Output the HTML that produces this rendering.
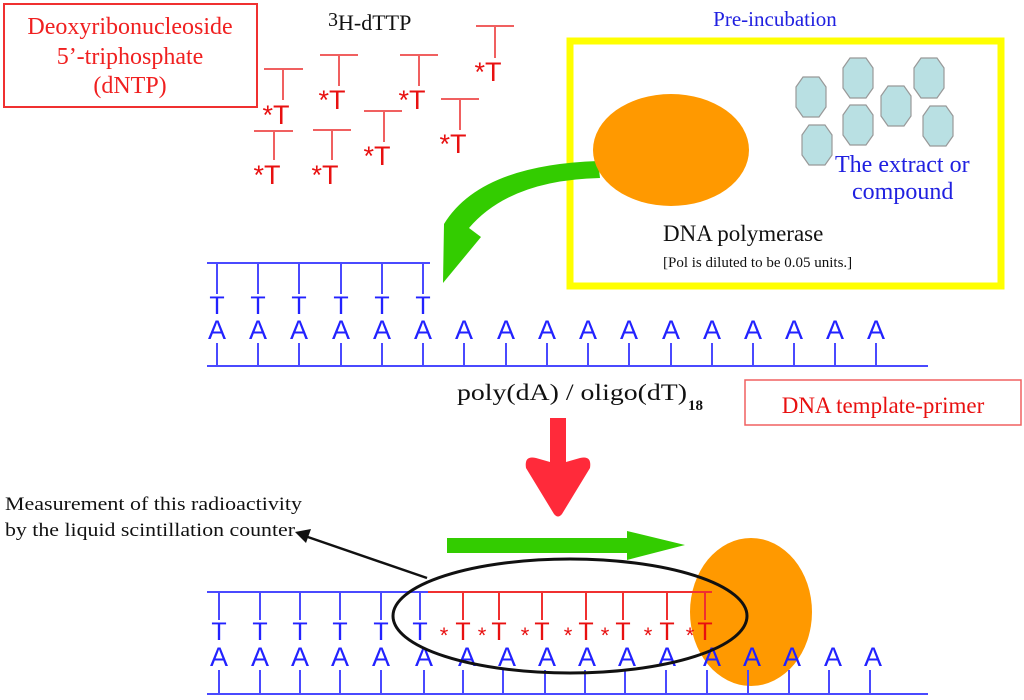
<!DOCTYPE html>
<html><head><meta charset="utf-8"><style>
html,body{margin:0;padding:0;background:#fff;}
svg{display:block;}
.ser{font-family:"Liberation Serif",serif;}
.san{font-family:"Liberation Sans",sans-serif;}
</style></head><body>
<svg width="1024" height="700" viewBox="0 0 1024 700" xmlns="http://www.w3.org/2000/svg">
<rect x="4" y="4" width="253" height="103" fill="#fff" stroke="#f03030" stroke-width="2"/>
<g class="ser" fill="#f02020" font-size="24" text-anchor="middle">
<text x="130" y="34">Deoxyribonucleoside</text>
<text x="130" y="64">5’-triphosphate</text>
<text x="130" y="93">(dNTP)</text>
</g>
<text class="ser" x="328" y="30" font-size="22" fill="#111"><tspan font-size="20" dy="-4">3</tspan><tspan dy="4">H-dTTP</tspan></text>

<g stroke="#f06060" stroke-width="2" fill="none">
<path d="M264 69H303M283 69V100"/>
<path d="M320 55H358M339 55V86"/>
<path d="M400 55H438M419 55V86"/>
<path d="M476 26H514M495 26V58"/>
<path d="M364 111H402M384 111V142"/>
<path d="M441 99H479M460 99V130"/>
<path d="M254 131H293M274 131V160"/>
<path d="M313 130H351M332 130V160"/>
</g>
<g class="san" fill="#e81010" font-size="27" text-anchor="middle">
<text x="276" y="124">*T</text>
<text x="332" y="109">*T</text>
<text x="412" y="109">*T</text>
<text x="488" y="81">*T</text>
<text x="377" y="165">*T</text>
<text x="453" y="153">*T</text>
<text x="267" y="184">*T</text>
<text x="325" y="184">*T</text>
</g>

<text class="ser" x="775" y="26" font-size="21" fill="#2020e0" text-anchor="middle">Pre-incubation</text>
<rect x="570" y="41" width="431" height="245" fill="none" stroke="#ffff00" stroke-width="7"/>
<path d="M443,283 L444,224 Q480,165 598,161 L600,178 Q510,180 469,228 L481,237 Z" fill="#33cc00"/>
<ellipse cx="671" cy="150" rx="78" ry="56" fill="#ff9900"/>
<g fill="#b9e0e3" stroke="#999" stroke-width="1.2">
<polygon points="-8,-20 8,-20 15,-10 15,10 8,20 -8,20 -15,10 -15,-10" transform="translate(811,97)"/>
<polygon points="-8,-20 8,-20 15,-10 15,10 8,20 -8,20 -15,10 -15,-10" transform="translate(858,78)"/>
<polygon points="-8,-20 8,-20 15,-10 15,10 8,20 -8,20 -15,10 -15,-10" transform="translate(896,106)"/>
<polygon points="-8,-20 8,-20 15,-10 15,10 8,20 -8,20 -15,10 -15,-10" transform="translate(929,78)"/>
<polygon points="-8,-20 8,-20 15,-10 15,10 8,20 -8,20 -15,10 -15,-10" transform="translate(858,125)"/>
<polygon points="-8,-20 8,-20 15,-10 15,10 8,20 -8,20 -15,10 -15,-10" transform="translate(938,126)"/>
<polygon points="-8,-20 8,-20 15,-10 15,10 8,20 -8,20 -15,10 -15,-10" transform="translate(817,145)"/>
</g>
<g class="ser" fill="#2020e0" font-size="24">
<text x="835" y="172">The extract or</text>
<text x="852" y="199">compound</text>
</g>
<text class="ser" x="663" y="241" font-size="23" fill="#111">DNA polymerase</text>
<text class="ser" x="663" y="267" font-size="15" fill="#111">[Pol is diluted to be 0.05 units.]</text>

<g stroke="#4a4aff" stroke-width="2" fill="none">
<path d="M207 366H928"/>
<path d="M207 263H430"/>
<path d="M217 263V294M258 263V294M299 263V294M341 263V294M382 263V294M423 263V294"/>
<path d="M217 343V366M258 343V366M299 343V366M341 343V366M382 343V366M423 343V366M464 343V366M506 343V366M547 343V366M588 343V366M629 343V366M671 343V366M712 343V366M753 343V366M794 343V366M835 343V366M876 343V366"/>
</g>
<g class="san" fill="#2222ff" font-size="27" text-anchor="middle">
<text x="217" y="314" font-size="25">T</text><text x="258" y="314" font-size="25">T</text><text x="299" y="314" font-size="25">T</text><text x="341" y="314" font-size="25">T</text><text x="382" y="314" font-size="25">T</text><text x="423" y="314" font-size="25">T</text>
<text x="217" y="339">A</text><text x="258" y="339">A</text><text x="299" y="339">A</text><text x="341" y="339">A</text><text x="382" y="339">A</text><text x="423" y="339">A</text><text x="464" y="339">A</text><text x="506" y="339">A</text><text x="547" y="339">A</text><text x="588" y="339">A</text><text x="629" y="339">A</text><text x="671" y="339">A</text><text x="712" y="339">A</text><text x="753" y="339">A</text><text x="794" y="339">A</text><text x="835" y="339">A</text><text x="876" y="339">A</text>
</g>

<text class="ser" x="457" y="400" font-size="23" fill="#111" textLength="230" lengthAdjust="spacingAndGlyphs">poly(dA) / oligo(dT)</text>
<text class="ser" x="688" y="410" font-size="15" font-weight="bold" fill="#111">18</text>
<rect x="745" y="380" width="276" height="45" fill="none" stroke="#f06060" stroke-width="1.5"/>
<text class="ser" x="883" y="413" font-size="23" fill="#e81010" text-anchor="middle">DNA template-primer</text>

<path d="M550,418 H566 V462 L580,458 Q592,455 590,468 L562,514 Q558,519 554,514 L526,468 Q524,455 536,458 L550,462 Z" fill="#ff2a3a"/>

<g class="ser" font-size="19" fill="#111">
<text x="5" y="510" textLength="297" lengthAdjust="spacingAndGlyphs">Measurement of this radioactivity</text>
<text x="5" y="536" textLength="290" lengthAdjust="spacingAndGlyphs">by the liquid scintillation counter</text>
</g>
<path d="M427,578 L302,535" stroke="#111" stroke-width="2.5"/>
<polygon points="295,532 311,529 306,543" fill="#111"/>

<path d="M447,538 H627 V531 L685,545 L627,560 V553 H447 Z" fill="#33cc00"/>

<ellipse cx="751" cy="612" rx="61" ry="74" fill="#ff9900"/>

<g stroke="#4a4aff" stroke-width="2" fill="none">
<path d="M207 694H928"/>
<path d="M207 592H430"/>
<path d="M219 592V620M260 592V620M300 592V620M340 592V620M381 592V620M420 592V620"/>
<path d="M219 670V694M260 670V694M300 670V694M340 670V694M381 670V694M424 670V694M463 670V694M503 670V694M545 670V694M585 670V694M625 670V694M666 670V694M707 670V694M748 670V694M789 670V694M829 670V694M870 670V694"/>
</g>
<g stroke="#f03030" stroke-width="2" fill="none">
<path d="M428 592H712"/>
<path d="M463 592V620M499 592V620M542 592V620M586 592V620M623 592V620M667 592V620M705 592V620"/>
</g>
<g class="san" fill="#2222ff" font-size="27" text-anchor="middle">
<text x="219" y="640" font-size="25">T</text><text x="260" y="640" font-size="25">T</text><text x="300" y="640" font-size="25">T</text><text x="340" y="640" font-size="25">T</text><text x="381" y="640" font-size="25">T</text><text x="420" y="640" font-size="25">T</text>
<text x="219" y="666">A</text><text x="260" y="666">A</text><text x="300" y="666">A</text><text x="340" y="666">A</text><text x="381" y="666">A</text><text x="424" y="666">A</text><text x="467" y="666">A</text><text x="507" y="666">A</text><text x="547" y="666">A</text><text x="587" y="666">A</text><text x="627" y="666">A</text><text x="667" y="666">A</text><text x="712" y="666">A</text><text x="752" y="666">A</text><text x="792" y="666">A</text><text x="833" y="666">A</text><text x="873" y="666">A</text>
</g>
<g class="san" fill="#e81010" font-size="25" text-anchor="middle">
<text x="463" y="640">T</text><text x="499" y="640">T</text><text x="542" y="640">T</text><text x="586" y="640">T</text><text x="623" y="640">T</text><text x="667" y="640">T</text><text x="705" y="640">T</text>
</g>
<g class="san" fill="#e81010" font-size="22" text-anchor="middle">
<text x="444" y="643">*</text><text x="482" y="643">*</text><text x="525" y="643">*</text><text x="568" y="643">*</text><text x="605" y="643">*</text><text x="648" y="643">*</text><text x="690" y="643">*</text>
</g>
<ellipse cx="570" cy="616" rx="177" ry="57" fill="none" stroke="#111" stroke-width="3"/>
</svg>
</body></html>
